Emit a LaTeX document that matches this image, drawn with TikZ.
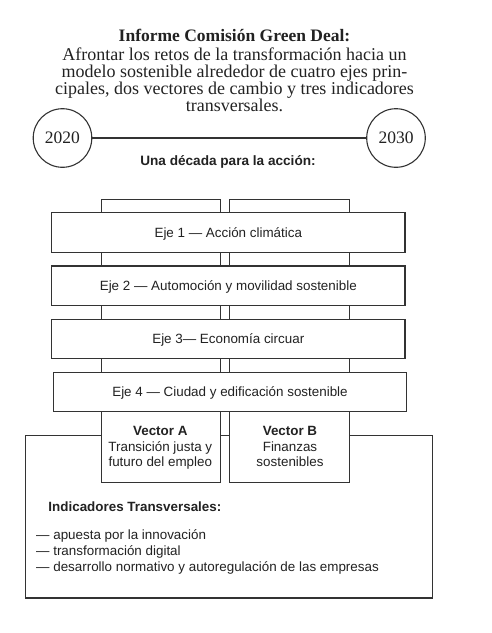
\documentclass[tikz,border=0pt]{standalone}
\usepackage{fontspec}
\setmainfont{Liberation Serif}
\setsansfont{Liberation Sans}
\definecolor{ink}{HTML}{333333}
\definecolor{txt}{HTML}{222222}
\newcommand{\sansfs}{\sffamily\fontsize{13.4}{15}\selectfont}
\begin{document}
\begin{tikzpicture}[x=1pt,y=-1pt,
  frame/.style={draw=ink, line width=1.1pt, fill=white, inner sep=0pt},
  ejebox/.style={frame, minimum width=353.3pt, minimum height=39.6pt,
    font=\sansfs, text=txt, text height=9.6pt, text depth=0pt},
  colbox/.style={frame, minimum width=119.7pt, minimum height=283.4pt},
  yearc/.style={frame, circle, minimum size=58.6pt,
    font=\fontsize{17.5}{18}\selectfont, text=txt, text height=11.6pt, text depth=0pt},
  serifline/.style={anchor=base, inner sep=0pt, text=txt, font=\fontsize{18}{18}\selectfont},
  sansline/.style={anchor=base west, inner sep=0pt, text=txt, font=\sansfs},
  vectxt/.style={anchor=base, inner sep=0pt, text=txt, font=\sansfs}
]
\useasboundingbox (0,0) rectangle (491,633);
% title
\node[serifline, font=\bfseries\fontsize{17.5}{18}\selectfont] (t1) at (234.5,41.7) {Informe Comisión Green Deal:};
\node[serifline] (t2) at (234.5,60) {Afrontar los retos de la transformación hacia un};
\node[serifline] (t3) at (234.5,77.3) {modelo sostenible alrededor de cuatro ejes prin-};
\node[serifline] (t4) at (234.5,94.8) {cipales, dos vectores de cambio y tres indicadores};
\node[serifline] (t5) at (234.5,111.8) {transversales.};
% timeline
\node[yearc] (y1) at (62.5,138) {2020};
\node[yearc] (y2) at (396,138) {2030};
\draw[draw=ink, line width=1.1pt] (y1) -- (y2);
\node[anchor=base, inner sep=0pt, text=txt, font=\sffamily\bfseries\fontsize{13.6}{15}\selectfont] (dec) at (228,165.7) {Una década para la acción:};
% bottom box
\node[frame, minimum width=406.6pt, minimum height=162.3pt] (big) at (229,516.85) {};
% columns
\node[colbox] (colA) at (160.9,341) {};
\node[colbox] (colB) at (289.7,341) {};
% axes
\node[ejebox] (e1) at (228.3,232.5) {Eje 1 — Acción climática};
\node[ejebox] (e2) at (228.3,285.8) {Eje 2 — Automoción y movilidad sostenible};
\node[ejebox] (e3) at (228.3,339) {Eje 3— Economía circuar};
\node[ejebox] (e4) at (230,392) {Eje 4 — Ciudad y edificación sostenible};
% vectors
\node[vectxt, font=\sansfs\bfseries] (vA1) at (160.3,435) {Vector A};
\node[vectxt] (vA2) at (160.3,451) {Transición justa y};
\node[vectxt] (vA3) at (160.3,466.5) {futuro del empleo};
\node[vectxt, font=\sansfs\bfseries] (vB1) at (290,435) {Vector B};
\node[vectxt] (vB2) at (290,451) {Finanzas};
\node[vectxt] (vB3) at (290,466.5) {sostenibles};
% indicators
\node[sansline, font=\sansfs\bfseries] (ind) at (48.3,511) {Indicadores Transversales:};
\node[sansline] (i1) at (36,539.3) {— apuesta por la innovación};
\node[sansline] (i2) at (36,555.3) {— transformación digital};
\node[sansline] (i3) at (36,571) {— desarrollo normativo y autoregulación de las empresas};
\end{tikzpicture}
\end{document}
